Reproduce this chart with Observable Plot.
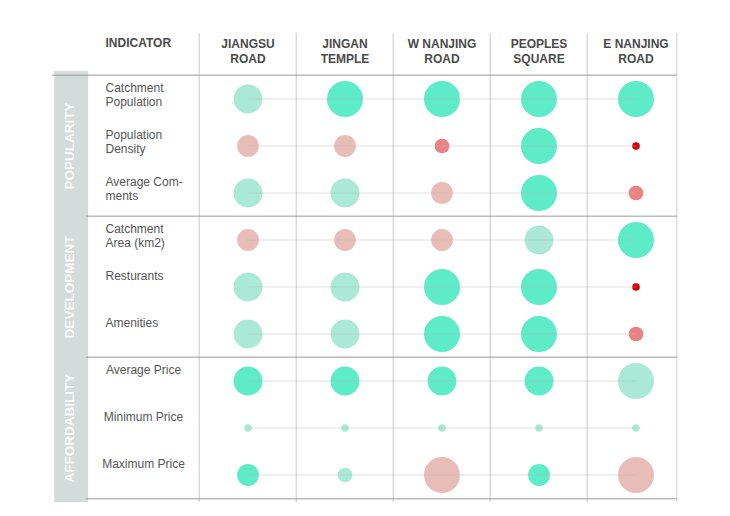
<!DOCTYPE html>
<html>
<head>
<meta charset="utf-8">
<script src="https://cdn.jsdelivr.net/npm/d3@7"></script>
<script src="https://cdn.jsdelivr.net/npm/@observablehq/plot@0.6"></script>
<style>
  html, body { margin: 0; padding: 0; background: #fff; overflow: hidden; }
  #chart svg { display: block; }
</style>
</head>
<body>
<div id="chart"></div>
<script>
// ---- data ----
const stations = ["JIANGSU\nROAD", "JINGAN\nTEMPLE", "W NANJING\nROAD", "PEOPLES\nSQUARE", "E NANJING\nROAD"];
const indicators = ["Catchment\nPopulation", "Population\nDensity", "Average Com-\nments",
  "Catchment\nArea (km2)", "Resturants", "Amenities",
  "Average Price", "Minimum Price", "Maximum Price"];
const groups = ["POPULARITY", "DEVELOPMENT", "AFFORDABILITY"];
const groupOf = [0, 0, 0, 1, 1, 1, 2, 2, 2];
const headerLabel = "INDICATOR";
// circle size level (1-5), one row per indicator, one column per station
const sizes = [
  [4, 5, 5, 5, 5],
  [3, 3, 2, 5, 1],
  [4, 4, 3, 5, 2],
  [3, 3, 3, 4, 5],
  [4, 4, 5, 5, 1],
  [4, 4, 5, 5, 2],
  [4, 4, 4, 4, 5],
  [1, 1, 1, 1, 1],
  [3, 2, 5, 3, 5]
];
// rating level (1 = worst, 5 = best) -> colour
const ratings = [
  [4, 5, 5, 5, 5],
  [3, 3, 2, 5, 1],
  [4, 4, 3, 5, 2],
  [3, 3, 3, 4, 5],
  [4, 4, 5, 5, 1],
  [4, 4, 5, 5, 2],
  [5, 5, 5, 5, 4],
  [4, 4, 4, 4, 4],
  [5, 4, 3, 5, 3]
];
const ratingLevels = [1, 2, 3, 4, 5];
const ratingColors = ["#d60000", "#e98282", "#e9bdb7", "#a9e9d6", "#5eebc8"];

// ---- layout ----
const W = 730, H = 516, mL = 197, mR = 45, mT = 72, mB = 15;
const stepX = (W - mL - mR) / stations.length;
const stepY = (H - mT - mB) / indicators.length;
const labelX = 105, centerLabelX = 143, bandX = 69, rightBorder = 677, lineStart = 86, headerLineStart = 52;

const cells = [];
indicators.forEach((ind, i) => stations.forEach((st, j) => {
  cells.push({indicator: ind, station: st, size: sizes[i][j], rating: ratings[i][j]});
}));

const font = "'Liberation Sans', Arial, Helvetica, sans-serif";

const chart = Plot.plot({
  width: W, height: H,
  marginLeft: mL, marginRight: mR, marginTop: mT, marginBottom: mB,
  style: {fontFamily: font, background: "#fff", overflow: "visible"},
  x: {type: "band", domain: stations, padding: 0, axis: null},
  y: {type: "band", domain: indicators, padding: 0, axis: null},
  r: {type: "linear", domain: [1, 5], range: [3.8, 18]},
  color: {type: "ordinal", domain: ratingLevels, range: ratingColors},
  marks: [
    // grey group band
    Plot.ruleX([stations[0]], {x: d => d, dx: bandX - (mL + stepX / 2), strokeWidth: 34, stroke: "#d4dbdb", insetTop: -1, insetBottom: -1}),
    // vertical column lines
    Plot.ruleX(stations, {x: d => d, dx: -stepX / 2, insetTop: -39, insetBottom: -1, stroke: "#c9c9c9"}),
    Plot.ruleX([stations[stations.length - 1]], {x: d => d, dx: rightBorder - (W - mR - stepX / 2), insetTop: -39, insetBottom: -1, stroke: "#d0d0d0"}),
    // header line
    Plot.ruleY([indicators[0]], {y: d => d, dy: -stepY / 2, insetLeft: headerLineStart - mL, insetRight: (W - mR) - rightBorder, stroke: "#9a9a9a"}),
    // group separators
    Plot.ruleY([indicators[3], indicators[6]], {y: d => d, dy: -stepY / 2, insetLeft: lineStart - mL, insetRight: (W - mR) - rightBorder, stroke: "#9a9a9a"}),
    Plot.ruleY([indicators[8]], {y: d => d, dy: stepY / 2, insetLeft: lineStart - mL, insetRight: (W - mR) - rightBorder, stroke: "#9a9a9a"}),
    // circles
    Plot.dot(cells, {x: "station", y: "indicator", r: "size", fill: "rating", stroke: null}),
    // faint row lines
    Plot.line(cells, {x: "station", y: "indicator", z: "indicator", stroke: "#b8b8b8", strokeOpacity: 0.45, strokeWidth: 1}),
    // header texts
    Plot.text(stations, {x: d => d, text: d => d, frameAnchor: "top", lineAnchor: "top", dy: -34, fontSize: 12, fontWeight: "bold", lineHeight: 1.17, fill: "#4a4a4a"}),
    Plot.text([headerLabel], {text: d => d, frameAnchor: "top-left", textAnchor: "start", lineAnchor: "top", dx: labelX - mL, dy: -34, fontSize: 12, fontWeight: "bold", fill: "#4a4a4a"}),
    // indicator labels
    Plot.text(indicators.filter((d, i) => groupOf[i] < 2), {y: d => d, text: d => d, frameAnchor: "left", textAnchor: "start", lineAnchor: "top", dx: labelX - mL, dy: -17, fontSize: 12, lineHeight: 1.17, fill: "#555"}),
    Plot.text(indicators.filter((d, i) => groupOf[i] === 2), {y: d => d, text: d => d, frameAnchor: "left", textAnchor: "middle", lineAnchor: "top", dx: centerLabelX - mL, dy: -17, fontSize: 12, lineHeight: 1.17, fill: "#555"}),
    // group labels
    Plot.text(groups, {y: (d, i) => indicators[i * 3 + 1], text: d => d, frameAnchor: "left", textAnchor: "middle", lineAnchor: "middle", rotate: -90, dx: bandX - mL, fontSize: 13.5, fontWeight: "bold", fill: "#ffffff", fillOpacity: 0.92})
  ]
});
document.getElementById("chart").appendChild(chart);
</script>
</body>
</html>
